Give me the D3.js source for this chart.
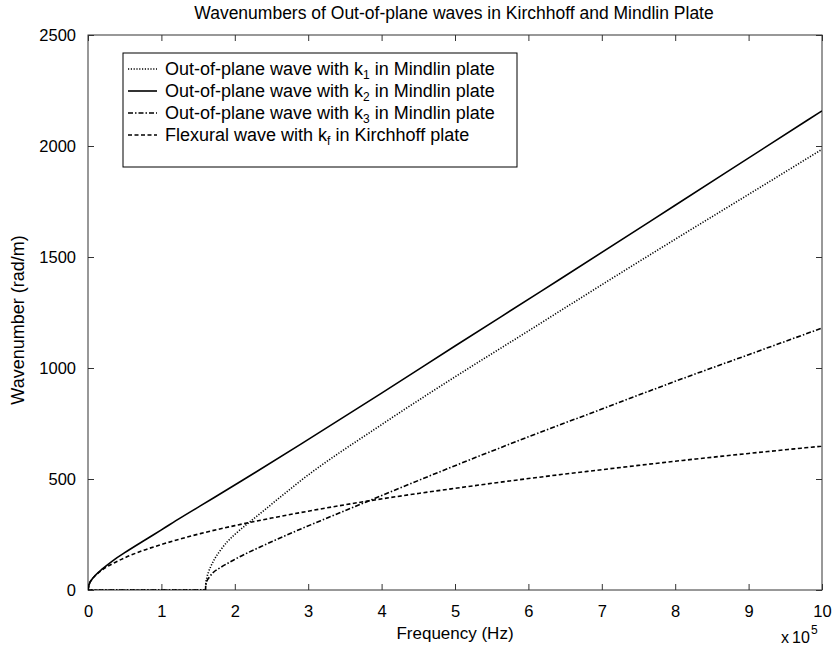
<!doctype html>
<html lang="en">
<head>
  <meta charset="utf-8">
  <title>Wavenumbers of Out-of-plane waves</title>
  <script src="https://cdn.jsdelivr.net/npm/d3@7"></script>
  <style>
    body { margin: 0; background: #fff; }
    svg text { font-family: "Liberation Sans", Arial, sans-serif; fill: #000; }
  </style>
</head>
<body>
<svg id="chart" width="832" height="652"></svg>
<script>
  //
  // Data (frequency in units of 1e5 Hz, wavenumber in rad/m)
  //

  var freqK1 = [0, 1.6, 1.605, 1.62, 1.64, 1.67, 1.72, 1.8, 1.9, 2.0, 2.19, 2.44, 2.9, 4, 5, 6, 7, 8, 9, 10]
  var k1 = [0, 0, 28, 56, 79, 104, 137, 177, 218, 250, 303, 370, 493, 745, 960, 1167, 1375, 1580, 1782, 1985]

  var freqK2 = [0, 0.02, 0.05, 0.1, 0.2, 0.35, 0.5, 0.81, 1, 1.26, 1.53, 2.1, 2.9, 4, 5, 6.165, 6.44, 8, 9.8, 10]
  var k2 = [0, 29, 46, 66, 96, 135, 168, 232, 271, 325, 379, 493, 657, 887, 1099, 1344, 1402, 1733, 2116, 2158]

  var freqK3 = [0, 1.6, 1.605, 1.62, 1.65, 1.71, 1.8, 2, 2.44, 2.9, 3.17, 3.8, 5, 6, 7, 8, 9, 10]
  var k3 = [0, 0, 20, 40, 56, 80, 100, 138, 208, 275, 312, 398, 560, 690, 815, 940, 1060, 1180]

  var freqKf = [0, 0.02, 0.05, 0.1, 0.2, 0.35, 0.5, 0.75, 1, 1.26, 1.53, 2, 2.5, 3, 3.78, 4.5, 5, 6, 6.44, 7, 8, 9, 10]
  var kf = [0, 29, 46, 65, 92, 121, 145, 178, 205, 230, 254, 290, 324, 355, 399, 435, 458, 502, 520, 542, 580, 615, 648]

  var xTicks = [0, 1, 2, 3, 4, 5, 6, 7, 8, 9, 10]
  var yTicks = [0, 500, 1000, 1500, 2000, 2500]

  var legendLabels = [
    ['Out-of-plane wave with k', '1', ' in Mindlin plate'],
    ['Out-of-plane wave with k', '2', ' in Mindlin plate'],
    ['Out-of-plane wave with k', '3', ' in Mindlin plate'],
    ['Flexural wave with k', 'f', ' in Kirchhoff plate']
  ]

  //
  // Styles
  //

  var dashes = ['1.2,1.6', null, '5,2,1.5,2', '4,2.5']
  var axisColor = '#333'

  //
  // Setup
  //

  var svg = d3.select('#chart')
  var x = d3.scaleLinear().domain([0, 10]).range([88, 822])
  var y = d3.scaleLinear().domain([0, 2500]).range([590, 35])

  svg.append('clipPath').attr('id', 'plotclip')
    .append('rect')
    .attr('x', x(0)).attr('y', y(2500))
    .attr('width', x(10) - x(0)).attr('height', y(0) - y(2500))

  // axes with inward ticks on all four sides
  var tickLen = 6
  svg.append('g')
    .attr('transform', 'translate(0,' + y(0) + ')')
    .call(d3.axisBottom(x).tickValues(xTicks).tickSizeInner(-tickLen).tickSizeOuter(0).tickPadding(15))
  svg.append('g')
    .attr('transform', 'translate(0,' + y(2500) + ')')
    .call(d3.axisTop(x).tickValues(xTicks).tickSizeInner(-tickLen).tickSizeOuter(0).tickFormat(''))
  svg.append('g')
    .attr('transform', 'translate(' + x(0) + ',0)')
    .call(d3.axisLeft(y).tickValues(yTicks).tickFormat(d3.format('d'))
      .tickSizeInner(-tickLen).tickSizeOuter(0).tickPadding(12))
  svg.append('g')
    .attr('transform', 'translate(' + x(10) + ',0)')
    .call(d3.axisRight(y).tickValues(yTicks).tickSizeInner(-tickLen).tickSizeOuter(0).tickFormat(''))

  svg.selectAll('.domain').remove()
  svg.selectAll('.tick line').attr('stroke', axisColor)
  svg.selectAll('.tick text')
    .style('font-family', '"Liberation Sans", Arial, sans-serif')
    .style('font-size', '16.5px')
    .attr('fill', '#000')

  svg.append('rect')
    .attr('x', x(0)).attr('y', y(2500))
    .attr('width', x(10) - x(0)).attr('height', y(0) - y(2500))
    .attr('fill', 'none').attr('stroke', axisColor).attr('stroke-width', 1)

  //
  // Lines
  //

  var series = [
    { f: freqK1, k: k1 },
    { f: freqK2, k: k2 },
    { f: freqK3, k: k3 },
    { f: freqKf, k: kf }
  ]

  var line = d3.line()
    .x(function (d) { return x(d[0]) })
    .y(function (d) { return y(d[1]) })
    .curve(d3.curveMonotoneX)

  var plot = svg.append('g').attr('clip-path', 'url(#plotclip)')
  // draw k3 / kf first, solid and dotted on top
  ;[3, 2, 0, 1].forEach(function (i) {
    var s = series[i]
    var pts = s.f.map(function (f, j) { return [f, s.k[j]] })
    plot.append('path')
      .attr('d', line(pts))
      .attr('fill', 'none')
      .attr('stroke', '#000')
      .attr('stroke-width', 1.6)
      .attr('stroke-dasharray', dashes[i])
  })

  //
  // Legend
  //

  var lg = svg.append('g')
  lg.append('rect')
    .attr('x', 123).attr('y', 53).attr('width', 394).attr('height', 114)
    .attr('fill', '#fff').attr('stroke', '#000').attr('stroke-width', 1)

  legendLabels.forEach(function (lab, i) {
    var ly = 69 + i * 22
    lg.append('line')
      .attr('x1', 128).attr('x2', 157).attr('y1', ly).attr('y2', ly)
      .attr('stroke', '#000').attr('stroke-width', 1.6)
      .attr('stroke-dasharray', dashes[i])
    var t = lg.append('text')
      .attr('x', 165).attr('y', ly + 6)
      .style('font-size', '18px')
    t.append('tspan').text(lab[0])
    t.append('tspan').attr('dy', 4).style('font-size', '12px').text(lab[1])
    t.append('tspan').attr('dy', -4).text(lab[2])
  })

  //
  // Titles
  //

  svg.append('text')
    .attr('x', 454).attr('y', 19)
    .attr('text-anchor', 'middle')
    .style('font-size', '17.5px')
    .text('Wavenumbers of Out-of-plane waves in Kirchhoff and Mindlin Plate')

  svg.append('text')
    .attr('x', 455).attr('y', 639)
    .attr('text-anchor', 'middle')
    .style('font-size', '17px')
    .text('Frequency (Hz)')

  svg.append('text')
    .attr('transform', 'translate(24,320) rotate(-90)')
    .attr('text-anchor', 'middle')
    .style('font-size', '18px')
    .text('Wavenumber (rad/m)')

  var ex = svg.append('text')
    .attr('y', 643)
    .style('font-size', '16px')
  ex.append('tspan').attr('x', 781).text('x')
  ex.append('tspan').attr('x', 792).text('10')
  ex.append('tspan').attr('x', 811).attr('y', 634).style('font-size', '12px').text('5')
</script>
</body>
</html>
